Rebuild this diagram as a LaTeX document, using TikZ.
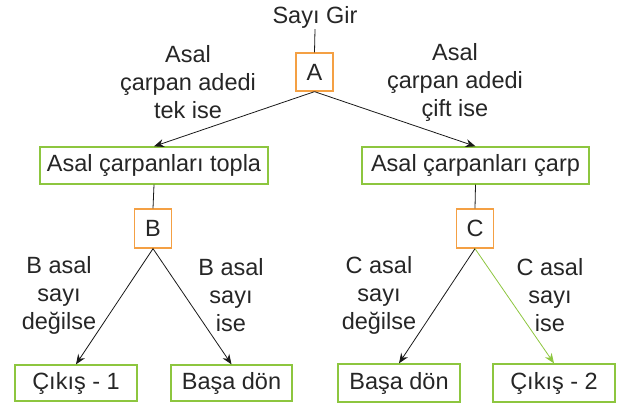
\documentclass[tikz,border=0pt]{standalone}
\usepackage{fontspec}
\setmainfont{Liberation Sans}
\usetikzlibrary{arrows.meta}
\definecolor{boxorange}{HTML}{F4A044}
\definecolor{boxgreen}{HTML}{8DC63F}
\tikzset{
  txt/.style={font=\fontsize{23.5}{28}\selectfont, text=black!85},
  decbox/.style={txt, draw=boxorange, line width=1.3pt, minimum width=37pt, minimum height=38pt, inner sep=0pt},
  actbox/.style={txt, draw=boxgreen, line width=1.3pt, minimum height=37pt, inner sep=0pt},
  lbl/.style={txt, align=center, inner sep=0pt},
  conn/.style={line width=0.8pt, draw=black!90},
  arr/.style={conn, -{Stealth[length=10pt,width=8pt]}},
  garr/.style={line width=0.8pt, draw=boxgreen, -{Stealth[length=10pt,width=8pt]}}
}
\begin{document}
\begin{tikzpicture}[x=1pt,y=-1pt]
\useasboundingbox (0,0) rectangle (623,406);
\node[txt, inner sep=1pt] (start) at (315,17) {Sayı Gir};
\node[decbox] (A) at (314.5,72) {A};
\node[actbox, minimum width=228pt] (L) at (154,165.5) {Asal çarpanları topla};
\node[actbox, minimum width=227pt] (R) at (475.5,165.5) {Asal çarpanları çarp};
\node[decbox, minimum height=39pt] (B) at (153,228.5) {B};
\node[decbox, minimum height=39pt] (C) at (475,228.5) {C};
\node[actbox, minimum width=122pt, minimum height=36pt] (O1) at (76,383) {Çıkış - 1};
\node[actbox, minimum width=121pt, minimum height=36pt] (D1) at (231.5,383) {Başa dön};
\node[actbox, minimum width=122pt, minimum height=38pt] (D2) at (399,383) {Başa dön};
\node[actbox, minimum width=122pt, minimum height=38pt] (O2) at (554,383) {Çıkış - 2};

\node[lbl] (la) at (188,82) {Asal\\çarpan adedi\\tek ise};
\node[lbl] (ra) at (455,82) {Asal\\çarpan adedi\\çift ise};
\node[lbl] (lb) at (59,295) {B asal\\sayı\\değilse};
\node[lbl] (rb) at (231,295) {B asal\\sayı\\ise};
\node[lbl] (lc) at (379,295) {C asal\\sayı\\değilse};
\node[lbl] (rc) at (550,295) {C asal\\sayı\\ise};

\draw[conn] (start.south) -- (A.north);
\draw[arr] (A.south) -- (L.north);
\draw[arr] (A.south) -- (R.north);
\draw[conn] (L.south) -- (B.north);
\draw[conn] (R.south) -- (C.north);
\draw[arr] (B.south) -- (O1.north);
\draw[arr] (B.south) -- (D1.north);
\draw[arr] (C.south) -- (D2.north);
\draw[garr] (C.south) -- (O2.north);
\end{tikzpicture}
\end{document}
